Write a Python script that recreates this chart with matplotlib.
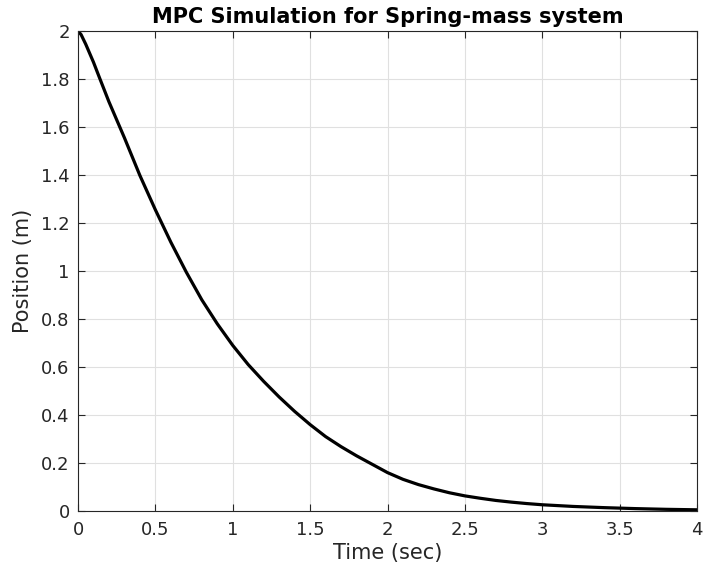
import matplotlib
matplotlib.use("Agg")
import matplotlib.pyplot as plt

t = [0, 0.02, 0.05, 0.1, 0.136, 0.2, 0.27, 0.3, 0.4, 0.5, 0.6, 0.7, 0.8, 0.9, 1.0,
     1.1, 1.2, 1.3, 1.4, 1.5, 1.6, 1.7, 1.8, 1.9, 2.0, 2.1, 2.2, 2.3, 2.4, 2.5,
     2.6, 2.7, 2.8, 2.9, 3.0, 3.2, 3.4, 3.6, 3.8, 4.0]
position = [2.0, 1.985, 1.945, 1.87, 1.81, 1.705, 1.60, 1.555, 1.398, 1.255, 1.12,
            0.995, 0.88, 0.78, 0.69, 0.61, 0.54, 0.475, 0.415, 0.36, 0.31, 0.268,
            0.23, 0.195, 0.16, 0.132, 0.11, 0.092, 0.076, 0.063, 0.053, 0.044,
            0.037, 0.031, 0.026, 0.019, 0.014, 0.010, 0.007, 0.005]
xticks = [0, 0.5, 1, 1.5, 2, 2.5, 3, 3.5, 4]
xticklabels = ["0", "0.5", "1", "1.5", "2", "2.5", "3", "3.5", "4"]
yticks = [0, 0.2, 0.4, 0.6, 0.8, 1, 1.2, 1.4, 1.6, 1.8, 2]
yticklabels = ["0", "0.2", "0.4", "0.6", "0.8", "1", "1.2", "1.4", "1.6", "1.8", "2"]

plt.rcParams['font.family'] = ['DejaVu Sans']
fig = plt.figure(figsize=(7.03, 5.69), dpi=100)
ax = fig.add_axes([78/703, 58/569, 619/703, 480/569])
ax.plot(t, position, color='black', lw=2.3, solid_joinstyle='round')
ax.set_xlim(0, 4)
ax.set_ylim(0, 2)
ax.set_xticks(xticks)
ax.set_xticklabels(xticklabels)
ax.set_yticks(yticks)
ax.set_yticklabels(yticklabels)
ax.grid(True, color='#e0e0e0', lw=0.8)
ax.set_axisbelow(True)
for s in ax.spines.values():
    s.set_color('#262626')
    s.set_linewidth(0.8)
ax.tick_params(direction='in', length=5, width=0.8, colors='#262626',
               labelsize=13, top=True, right=True, labelcolor='#262626')
ax.tick_params(axis='x', pad=7)
ax.tick_params(axis='y', pad=6)
ax.set_xlabel("Time (sec)", fontsize=15, color='#262626', labelpad=3)
ax.set_ylabel("Position (m)", fontsize=15, color='#262626', labelpad=6)
ax.set_title("MPC Simulation for Spring-mass system", fontsize=15,
             fontweight='bold', pad=6)
fig.savefig("out.png", dpi=100)
